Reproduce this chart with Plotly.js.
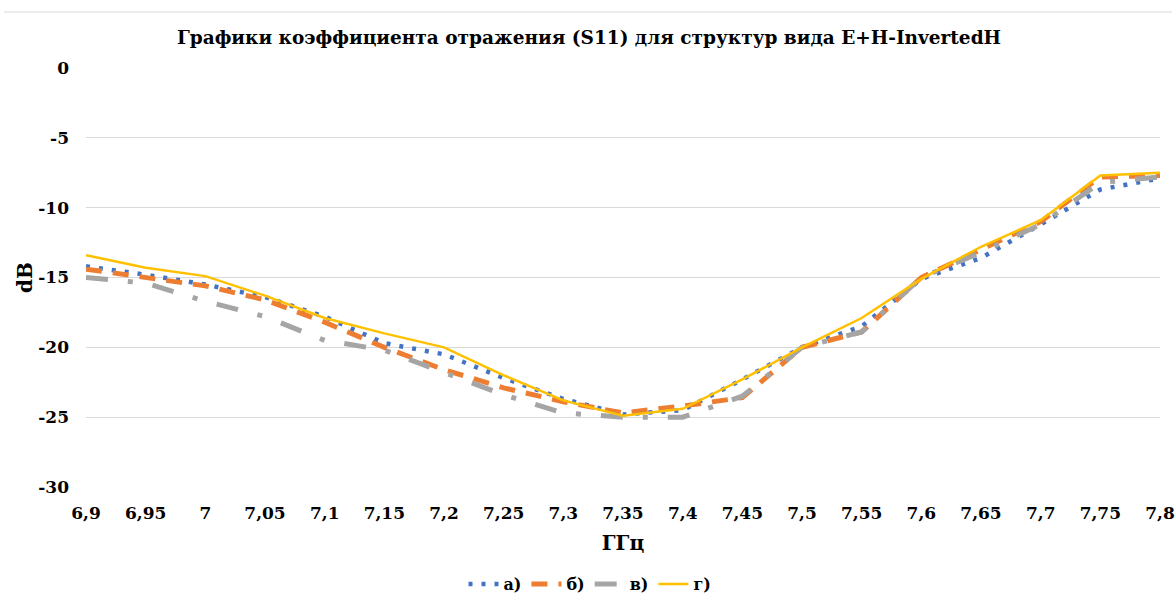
<!DOCTYPE html>
<html>
<head>
<meta charset="utf-8">
<script src="https://cdn.plot.ly/plotly-3.0.1.min.js"></script>
<style>html,body{margin:0;padding:0;background:#fff;}#chart{width:1176px;height:600px;}</style>
</head>
<body>
<div id="chart"></div>
<script>
// Frequency (GHz)
const freq = [6.9, 6.95, 7.0, 7.05, 7.1, 7.15, 7.2, 7.25, 7.3, 7.35, 7.4, 7.45, 7.5, 7.55, 7.6, 7.65, 7.7, 7.75, 7.8];
const freqLabels = ["6,9","6,95","7","7,05","7,1","7,15","7,2","7,25","7,3","7,35","7,4","7,45","7,5","7,55","7,6","7,65","7,7","7,75","7,8"];
// S11 (dB) for each structure
const seriesA = [-14.2, -14.8, -15.5, -16.4, -17.8, -19.7, -20.5, -22.2, -23.7, -24.8, -24.5, -22.3, -20.0, -18.5, -15.1, -13.6, -11.2, -8.7, -7.9];
const seriesB = [-14.4, -15.0, -15.6, -16.6, -18.2, -20.0, -21.6, -22.9, -23.9, -24.7, -24.2, -23.6, -20.0, -18.9, -15.0, -13.0, -11.0, -7.8, -7.7];
const seriesV = [-15.0, -15.4, -16.7, -17.8, -19.5, -20.2, -21.8, -23.4, -24.7, -25.0, -25.0, -23.5, -20.0, -18.9, -15.0, -13.2, -11.2, -8.2, -7.8];
const seriesG = [-13.4, -14.3, -14.9, -16.3, -17.9, -19.0, -20.0, -22.0, -23.8, -24.9, -24.4, -22.3, -20.0, -17.9, -15.1, -12.8, -10.9, -7.7, -7.5];
const seriesNames = ["а)", "б)", "в)", "г)"];
const yTicks = [0, -5, -10, -15, -20, -25, -30];
const yTickLabels = ["0", "-5", "-10", "-15", "-20", "-25", "-30"];

const font = "DejaVu Serif, Liberation Serif, serif";

const traces = [
  {x: freq, y: seriesA, name: seriesNames[0], mode: "lines", line: {color: "#4472C4", width: 4.5, dash: "4px,9px"}},
  {x: freq, y: seriesB, name: seriesNames[1], mode: "lines", line: {color: "#ED7D31", width: 5, dash: "16px,11px"}},
  {x: freq, y: seriesV, name: seriesNames[2], mode: "lines", line: {color: "#A5A5A5", width: 5, dash: "22px,20px,5px,20px"}},
  {x: freq, y: seriesG, name: seriesNames[3], mode: "lines", line: {color: "#FFC000", width: 2.5}}
];

const layout = {
  width: 1176, height: 600,
  margin: {l: 86, r: 16, t: 68, b: 113, autoexpand: false},
  paper_bgcolor: "#fff", plot_bgcolor: "#fff",
  font: {family: font, size: 16, color: "#000"},
  title: {text: "<b>Графики коэффициента отражения (S11) для структур вида E+H-InvertedH</b>",
          font: {family: font, size: 18.5, color: "#000"},
          x: 589 / 1176, xref: "container", xanchor: "center", y: 1 - 38/600, yref: "container", yanchor: "middle"},
  xaxis: {range: [6.9, 7.8], tickvals: freq, ticktext: freqLabels.map(s => "<b>" + s + "</b>"),
          showgrid: false, zeroline: false, showline: false, ticks: "", automargin: false,
          tickfont: {family: font, size: 17, color: "#000"}, ticklabelstandoff: 14,
          title: {text: "<b>ГГц</b>", font: {family: font, size: 20, color: "#000"}, standoff: 13}},
  yaxis: {range: [-30, 0], tickvals: yTicks, ticktext: yTickLabels.map(s => "<b>" + s + "</b>"),
          showgrid: true, gridcolor: "#d9d9d9", gridwidth: 1, zeroline: false, showline: false, automargin: false,
          tickfont: {family: font, size: 17, color: "#000"}, ticklabelstandoff: 16,
          title: {text: "<b>dB</b>", font: {family: font, size: 20, color: "#000"}, standoff: 0}},
  showlegend: true,
  legend: {orientation: "h", x: 590 / 1176, xref: "container", xanchor: "center", y: 16 / 600, yref: "container", yanchor: "middle",
           font: {family: font, size: 16, color: "#000"}, itemwidth: 30, tracegroupgap: 0},
  shapes: [{type: "line", xref: "paper", yref: "paper", x0: (4 - 86) / 1074, x1: (1172 - 86) / 1074,
            y0: (487 - 12) / 419, y1: (487 - 12) / 419, line: {color: "#d9d9d9", width: 1}}]
};

Plotly.newPlot("chart", traces.map(t => Object.assign(t, {name: "<b>" + t.name + "</b>"})), layout, {displayModeBar: false, staticPlot: true});
</script>
</body>
</html>
